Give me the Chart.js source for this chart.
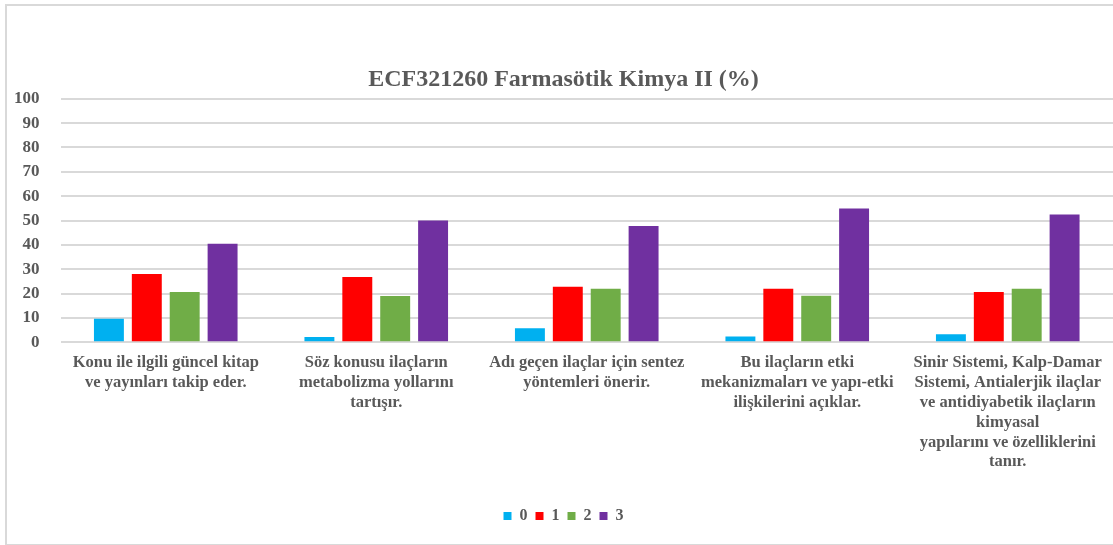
<!DOCTYPE html>
<html>
<head>
<meta charset="utf-8">
<script src="https://cdn.jsdelivr.net/npm/chart.js@4/dist/chart.umd.min.js"></script>
<style>
  html, body { margin: 0; padding: 0; background: #fff; }
  #wrap { position: absolute; left: 5px; top: 4px; width: 1108px; height: 538px;
          border-left: 2px solid #d9d9d9; border-top: 2px solid #d9d9d9; border-bottom: 1px solid #d9d9d9; }
  #c { display: block; }
</style>
</head>
<body>
<div id="wrap"><canvas id="c" width="1106" height="537"></canvas></div>
<script>
const categories = [
  ["Konu ile ilgili güncel kitap", "ve yayınları takip eder."],
  ["Söz konusu ilaçların", "metabolizma yollarını", "tartışır."],
  ["Adı geçen ilaçlar için sentez", "yöntemleri önerir."],
  ["Bu ilaçların etki", "mekanizmaları ve yapı-etki", "ilişkilerini açıklar."],
  ["Sinir Sistemi, Kalp-Damar", "Sistemi, Antialerjik ilaçlar", "ve antidiyabetik ilaçların", "kimyasal", "yapılarını ve özelliklerini", "tanır."]
];
const seriesNames = ["0", "1", "2", "3"];
const values0 = [9.6, 2.1, 5.7, 2.3, 3.3];
const values1 = [28.0, 26.8, 22.8, 22.0, 20.6];
const values2 = [20.6, 19.0, 22.0, 19.1, 22.0];
const values3 = [40.4, 50.0, 47.7, 54.9, 52.5];
const colors = ["#00B0F0", "#FF0000", "#70AD47", "#7030A0"];
const allValues = [values0, values1, values2, values3];

const textColor = "#595959";
const fontFamily = "'Liberation Serif', 'Times New Roman', serif";

new Chart(document.getElementById("c"), {
  type: "bar",
  data: {
    labels: categories,
    datasets: seriesNames.map((n, i) => ({
      label: n,
      data: allValues[i],
      backgroundColor: colors[i],
      borderWidth: 0,
      categoryPercentage: 0.72,
      barPercentage: 0.79
    }))
  },
  options: {
    responsive: false,
    animation: false,
    layout: { padding: { left: 7, right: 0, top: 0, bottom: 9 } },
    plugins: {
      title: {
        display: true,
        text: "ECF321260 Farmasötik Kimya II (%)",
        color: textColor,
        font: { family: fontFamily, size: 24, weight: "bold" },
        padding: { top: 59, bottom: 5 }
      },
      legend: {
        position: "bottom",
        labels: {
          color: textColor,
          font: { family: fontFamily, size: 16, weight: "bold" },
          boxWidth: 8,
          boxHeight: 8,
          padding: 8
        }
      },
      tooltip: { enabled: false }
    },
    scales: {
      x: {
        grid: { display: false },
        border: { display: false },
        ticks: {
          color: textColor,
          font: { family: fontFamily, size: 16.5, weight: "bold", lineHeight: 1.2 },
          maxRotation: 0,
          autoSkip: false,
          padding: 3
        },
        afterFit: (s) => { s.paddingLeft = 0; s.paddingRight = 0; s.height += 25; }
      },
      y: {
        min: 0,
        max: 100,
        grid: { color: "#d9d9d9", lineWidth: 2, drawTicks: false },
        border: { display: false },
        ticks: {
          stepSize: 10,
          color: textColor,
          font: { family: fontFamily, size: 17, weight: "bold" },
          padding: 21
        },
        afterFit: (s) => { s.width -= 21; }
      }
    }
  }
});
</script>
</body>
</html>
